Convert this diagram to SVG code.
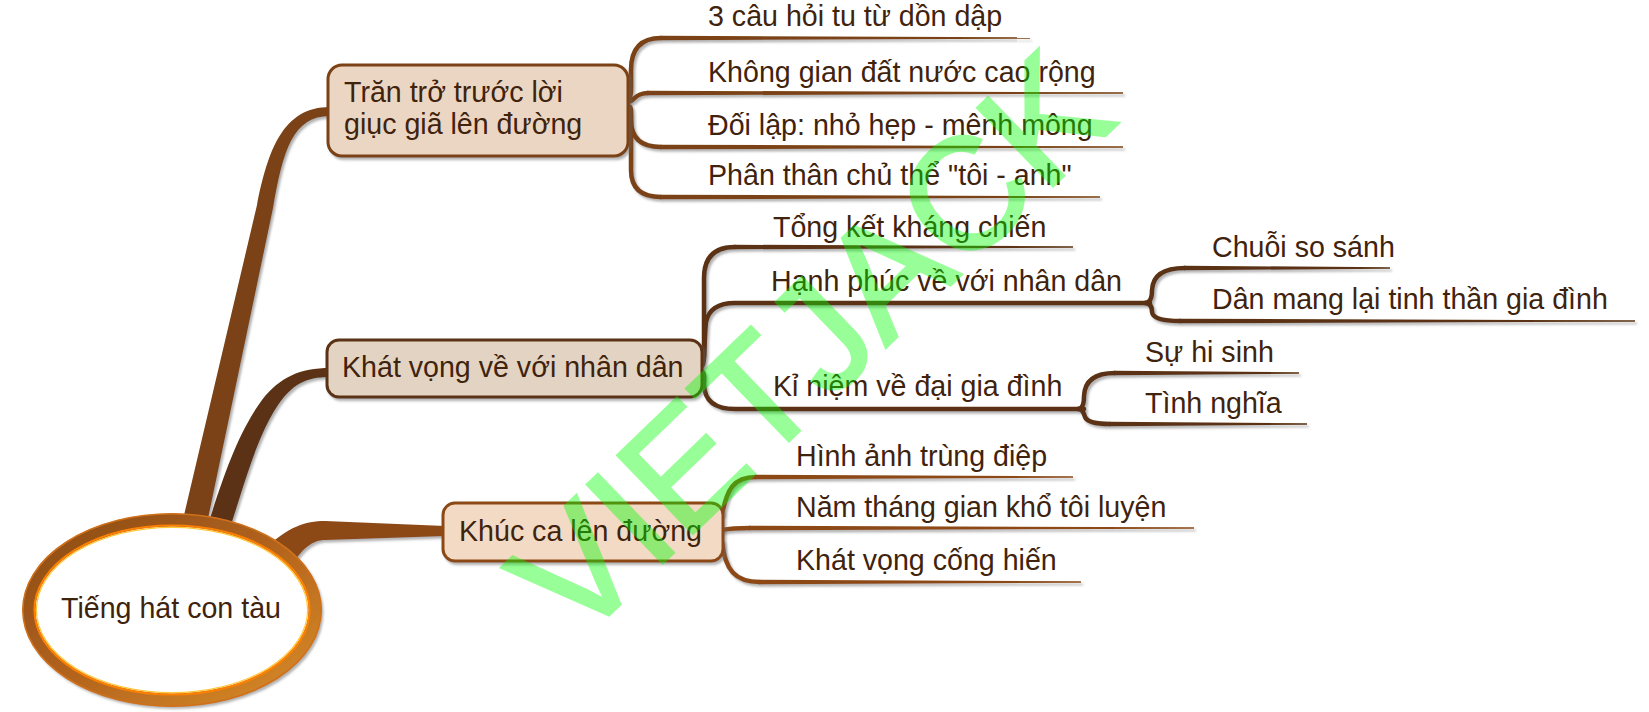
<svg xmlns="http://www.w3.org/2000/svg" width="1649" height="712" viewBox="0 0 1649 712">
<style>
.t{font-family:"Liberation Sans",Arial,"Noto Sans",sans-serif;font-size:28.6px;fill:#3f230c}
.c1{stroke:#7a4312;fill:none;stroke-width:4.5;stroke-linecap:round}
.f1{fill:#7a4312}
.c2{stroke:#5b3312;fill:none;stroke-width:4.5;stroke-linecap:round}
.f2{fill:#5b3312}
.c3{stroke:#8c4a17;fill:none;stroke-width:4.5;stroke-linecap:round}
.f3{fill:#8c4a17}
.box{stroke-width:3}
.wm{font-family:"Liberation Sans",Arial,sans-serif;font-size:158px;fill:#00ff00;stroke:#00ff00;stroke-width:3;opacity:0.4}
</style>
<defs>
<filter id="sh" filterUnits="userSpaceOnUse" x="0" y="0" width="1649" height="712">
<feDropShadow dx="2" dy="2.5" stdDeviation="1" flood-color="#666" flood-opacity="0.5"/>
</filter>
<linearGradient id="ring" x1="0" y1="0" x2="1" y2="1">
<stop offset="0" stop-color="#8a4a16"/>
<stop offset="0.5" stop-color="#b2631d"/>
<stop offset="1" stop-color="#d98c28"/>
</linearGradient>
</defs>
<rect width="1649" height="712" fill="#fff"/>

<g id="connectors" filter="url(#sh)">
<!-- main branches -->
<path class="f1" d="M181,528 L257,205 C268,150 283,107 330,107 L330,116 C293,116 283,150 273,208 L206,528 Z"/>
<path class="f2" d="M207,528 C225,470 240,430 262,400 C280,377 300,368 330,368 L330,377 C305,377 292,385 278,405 C258,435 247,475 230,528 Z"/>
<path class="f3" d="M266,548 C288,527 305,521 325,521 L445,526 L445,536 L325,540 C313,540 302,548 290,568 Z"/>
<!-- top group -->
<path class="c1" d="M628,98 C632,98 631,88 631,70 Q631,38 661,38"/>
<polygon class="f1" points="660,35.75 1030,37.3 1030,38.7 660,40.25"/>
<path class="c1" d="M628,102 C634,102 634,93 648,93"/>
<polygon class="f1" points="647,90.75 1123,92.3 1123,93.7 647,95.25"/>
<path class="c1" d="M628,106 C632,106 631,112 631,120 Q631,147 661,147"/>
<polygon class="f1" points="660,144.75 1123,146.3 1123,147.7 660,149.25"/>
<path class="c1" d="M628,110 C632,110 631,118 631,130 L631,170 Q631,197 661,197"/>
<polygon class="f1" points="660,194.75 1100,196.3 1100,197.7 660,199.25"/>
<!-- middle group -->
<path class="c2" d="M702,362 C705,362 704,350 704,340 L704,278 Q704,247 735,247"/>
<polygon class="f2" points="734,244.75 1073,246.3 1073,247.7 734,249.25"/>
<path class="c2" d="M702,366 C705,366 704,340 706,322 Q710,303 735,303 L1150,303"/>
<path class="c2" d="M702,372 C705,372 704,380 704,385 Q705,409 735,409 L1084,409"/>
<path class="c2" d="M1145,303 C1151,303 1152,296 1152,290 Q1153,268 1185,268"/>
<polygon class="f2" points="1184,265.75 1390,267.3 1390,268.7 1184,270.25"/>
<path class="c2" d="M1145,303 C1151,303 1152,308 1152,312 Q1153,321 1180,321"/>
<polygon class="f2" points="1179,318.75 1635,320.3 1635,321.7 1179,323.25"/>
<path class="c2" d="M1078,409 C1083,409 1084,402 1084,396 Q1085,373 1115,373"/>
<polygon class="f2" points="1114,370.75 1299,372.3 1299,373.7 1114,375.25"/>
<path class="c2" d="M1078,409 C1083,409 1084,414 1085,417 Q1088,424 1110,424"/>
<polygon class="f2" points="1109,421.75 1307,423.3 1307,424.7 1109,426.25"/>
<!-- bottom group -->
<path class="c3" d="M722,514 C727,490 733,477 756,477"/>
<polygon class="f3" points="755,474.75 1073,476.3 1073,477.7 755,479.25"/>
<path class="c3" d="M722,530 C732,528 738,528 750,528"/>
<polygon class="f3" points="749,525.75 1194,527.3 1194,528.7 749,530.25"/>
<path class="c3" d="M722,542 C725,570 735,582 760,582"/>
<polygon class="f3" points="759,579.75 1081,581.3 1081,582.7 759,584.25"/>
</g>

<g id="root">
<ellipse cx="172" cy="610" rx="143" ry="90" fill="#fff" stroke="url(#ring)" stroke-width="13" filter="url(#sh)"/>
<ellipse cx="172" cy="610" rx="149.2" ry="96.2" fill="none" stroke="#d0701a" stroke-width="1.6"/>
<ellipse cx="172" cy="610" rx="137.6" ry="84.6" fill="none" stroke="#ff8000" stroke-width="2"/>
<ellipse cx="172" cy="610" rx="135.6" ry="82.6" fill="none" stroke="#ffc83a" stroke-width="1.2"/>
<text class="t" x="171" y="618" text-anchor="middle">Tiếng hát con tàu</text>
</g>

<g id="n-trantro">
<rect class="box" x="328" y="65" width="300" height="91" rx="14" fill="#ebd6c3" stroke="#7a4312" filter="url(#sh)"/>
<text class="t" x="344" y="102">Trăn trở trước lời</text>
<text class="t" x="344" y="134">giục giã lên đường</text>
</g>
<g id="n-l1"><text class="t" x="708" y="26">3 câu hỏi tu từ dồn dập</text></g>
<g id="n-l2"><text class="t" x="708" y="82">Không gian đất nước cao rộng</text></g>
<g id="n-l3"><text class="t" x="708" y="135">Đối lập: nhỏ hẹp - mênh mông</text></g>
<g id="n-l4"><text class="t" x="708" y="185">Phân thân chủ thể "tôi - anh"</text></g>

<g id="n-khatvong">
<rect class="box" x="327" y="340" width="375" height="57" rx="12" fill="#e3d3c2" stroke="#5b3312" filter="url(#sh)"/>
<text class="t" x="342" y="377">Khát vọng về với nhân dân</text>
</g>
<g id="n-m1"><text class="t" x="773" y="237">Tổng kết kháng chiến</text></g>
<g id="n-m2"><text class="t" x="771" y="291">Hạnh phúc về với nhân dân</text></g>
<g id="n-m3"><text class="t" x="773" y="396">Kỉ niệm về đại gia đình</text></g>
<g id="n-m21"><text class="t" x="1212" y="257">Chuỗi so sánh</text></g>
<g id="n-m22"><text class="t" x="1212" y="309">Dân mang lại tinh thần gia đình</text></g>
<g id="n-m31"><text class="t" x="1145" y="362">Sự hi sinh</text></g>
<g id="n-m32"><text class="t" x="1145" y="413">Tình nghĩa</text></g>

<g id="n-khucca">
<rect class="box" x="443" y="503" width="280" height="58" rx="12" fill="#f2dac5" stroke="#8c4a17" filter="url(#sh)"/>
<text class="t" x="459" y="541">Khúc ca lên đường</text>
</g>
<g id="n-b1"><text class="t" x="796" y="466">Hình ảnh trùng điệp</text></g>
<g id="n-b2"><text class="t" x="796" y="517">Năm tháng gian khổ tôi luyện</text></g>
<g id="n-b3"><text class="t" x="796" y="570">Khát vọng cống hiến</text></g>

<text class="wm" x="0" y="0" text-anchor="middle" transform="translate(848,384) rotate(-44)">VIETJACK</text>
</svg>
